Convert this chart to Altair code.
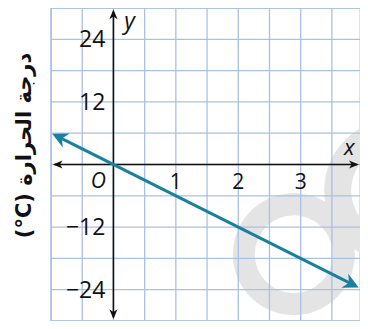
import altair as alt
import pandas as pd

# grid positions
x_grid = [-1, -0.5, 0, 0.5, 1, 1.5, 2, 2.5, 3, 3.5]
y_grid = [-30, -24, -18, -12, -6, 0, 6, 12, 18, 24, 30]

# tick labels
x_tick_vals = [1, 2, 3]
x_tick_text = ["1", "2", "3"]
y_tick_vals = [24, 12, -12, -24]
y_tick_text = ["24", "12", "\u221212", "\u221224"]

# data line y = -6x (temperature)
line_x = [-0.93, 3.87]
line_y = [5.58, -23.22]
tip_x = [-0.98, 3.93]
tip_y = [5.9, -23.6]
tip_angle = [206.0, 26.0]

# axis arrows
xaxis_x = [-0.94, 3.9]
xaxis_y = [0, 0]
yaxis_x = [0, 0]
yaxis_y = [-29.3, 29.3]
axis_tip_x = [-0.97, 3.93, 0, 0]
axis_tip_y = [0, 0, 29.7, -29.6]
axis_tip_angle = [180, 0, 270, 90]

# watermark rings (centres in data units)
ring_x = [2.89, 4.53]
ring_y = [-17.2, -5.0]

title_text = "(°C) درجة الحرارة"
GRID = "#a9c1e3"
TEAL = "#1a80a0"
INK = "#111111"

XS = alt.Scale(domain=[-1, 3.95], nice=False, zero=False)
YS = alt.Scale(domain=[-30, 30], nice=False, zero=False)
YAX = alt.Axis(title=title_text, labels=False, ticks=False, domain=False, grid=False,
               titleX=-27, titleY=137, titleAngle=270, titleAlign="center",
               titleBaseline="middle", titleFont="DejaVu Sans", titleFontSize=21,
               titleFontWeight="bold", titleColor=INK)


def X(f):
    return alt.X(f, type="quantitative", scale=XS, axis=None)


def Y(f):
    return alt.Y(f, type="quantitative", scale=YS, axis=YAX)


ring1 = alt.Chart(pd.DataFrame({"x": ring_x[:1], "y": ring_y[:1]})).mark_arc(
    radius=61, radius2=39, theta=0, theta2=6.2832, color="#e4e4e4"
).encode(x=X("x"), y=Y("y"))
ring2 = alt.Chart(pd.DataFrame({"x": ring_x[1:], "y": ring_y[1:]})).mark_arc(
    radius=72, radius2=45, theta=0, theta2=6.2832, color="#e4e4e4"
).encode(x=X("x"), y=Y("y"))

vgrid = alt.Chart(pd.DataFrame({"x": x_grid})).mark_rule(color=GRID, strokeWidth=1.3).encode(x=X("x"))
hgrid = alt.Chart(pd.DataFrame({"y": y_grid})).mark_rule(color=GRID, strokeWidth=1.3).encode(y=Y("y"))

xaxis = alt.Chart(pd.DataFrame({"x": xaxis_x, "y": xaxis_y})).mark_line(
    color=INK, strokeWidth=1.6).encode(x=X("x"), y=Y("y"))
yaxis = alt.Chart(pd.DataFrame({"x": yaxis_x, "y": yaxis_y})).mark_line(
    color=INK, strokeWidth=1.6).encode(x=X("x"), y=Y("y"), order=alt.Order("y:Q"))

arrow_shape = "M0,0L-1,-0.42L-0.72,0L-1,0.42Z"
axis_tips = alt.Chart(pd.DataFrame({"x": axis_tip_x, "y": axis_tip_y, "a": axis_tip_angle})).mark_point(
    shape=arrow_shape, filled=True, color=INK, size=380, opacity=1, strokeWidth=0
).encode(x=X("x"), y=Y("y"), angle=alt.Angle("a:Q", scale=None))

dline = alt.Chart(pd.DataFrame({"x": line_x, "y": line_y})).mark_line(
    color=TEAL, strokeWidth=3).encode(x=X("x"), y=Y("y"))
dtips = alt.Chart(pd.DataFrame({"x": tip_x, "y": tip_y, "a": tip_angle})).mark_point(
    shape="M0,0L-1,-0.5L-0.7,0L-1,0.5Z", filled=True, color=TEAL, size=960, opacity=1, strokeWidth=0
).encode(x=X("x"), y=Y("y"), angle=alt.Angle("a:Q", scale=None))

ylab = alt.Chart(pd.DataFrame({"x": [0] * 4, "y": y_tick_vals, "t": y_tick_text})).mark_text(
    align="right", baseline="middle", dx=-8, dy=1, font="Open Sans", fontSize=23, color=INK
).encode(x=X("x"), y=Y("y"), text="t:N")
xlab = alt.Chart(pd.DataFrame({"x": x_tick_vals, "y": [0] * 3, "t": x_tick_text})).mark_text(
    align="center", baseline="middle", dy=18, font="Open Sans", fontSize=21, color=INK
).encode(x=X("x"), y=Y("y"), text="t:N")

origin_lab = alt.Chart(pd.DataFrame({"x": [0], "y": [0], "t": ["O"]})).mark_text(
    align="center", baseline="middle", dx=-15, dy=17, font="Open Sans", fontSize=21,
    fontStyle="italic", color=INK
).encode(x=X("x"), y=Y("y"), text="t:N")
x_name = alt.Chart(pd.DataFrame({"x": [3.78], "y": [0], "t": ["x"]})).mark_text(
    align="center", baseline="middle", dy=-17, font="Open Sans", fontSize=22,
    fontStyle="italic", color=INK
).encode(x=X("x"), y=Y("y"), text="t:N")
y_name = alt.Chart(pd.DataFrame({"x": [0], "y": [27.4], "t": ["y"]})).mark_text(
    align="center", baseline="middle", dx=16, font="Open Sans", fontSize=23,
    fontStyle="italic", color=INK
).encode(x=X("x"), y=Y("y"), text="t:N")

chart = alt.layer(
    ring1, ring2, vgrid, hgrid, xaxis, yaxis, axis_tips, dline, dtips,
    ylab, xlab, origin_lab, x_name, y_name
).properties(
    width=309, height=313, autosize="none",
    padding={"left": 43, "top": 0, "right": 0, "bottom": 0}
).configure_view(stroke=GRID, strokeWidth=1.3)

chart.save("out.html", embed_options={"renderer": "svg", "actions": False})
